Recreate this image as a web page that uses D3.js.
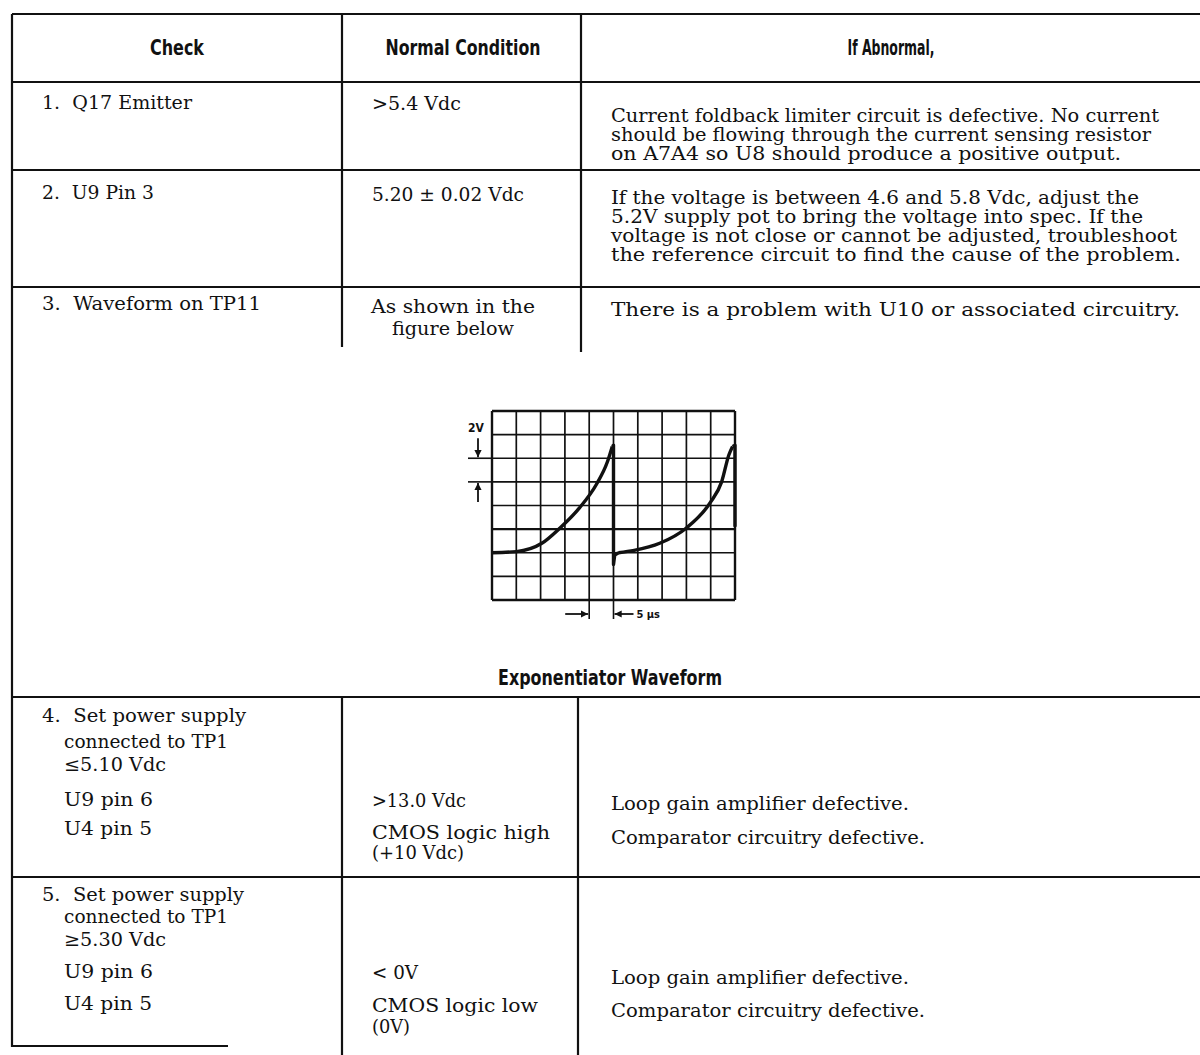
<!DOCTYPE html>
<html>
<head>
<meta charset="utf-8">
<script src="https://cdn.jsdelivr.net/npm/d3@7"></script>
<style>
  body { margin: 0; background: #fff; }
  .hdr { font-family: "Liberation Sans Narrow", "DejaVu Sans Condensed", "Liberation Sans", sans-serif; font-weight: bold; fill: #111; }
  .body { font-family: "DejaVu Serif", "Liberation Serif", serif; fill: #111; }
  .rule { stroke: #111; stroke-width: 2.2; fill: none; }
</style>
</head>
<body>
<div id="chart"></div>
<script>
// ---- table text ----
const headers = ["Check", "Normal Condition", "If Abnormal,"];

const checks = [
    ["1.  Q17 Emitter"],
    ["2.  U9 Pin 3"],
    ["3.  Waveform on TP11"],
    ["4.  Set power supply", "connected to TP1", "\u22645.10 Vdc", "U9 pin 6", "U4 pin 5"],
    ["5.  Set power supply", "connected to TP1", "\u22655.30 Vdc", "U9 pin 6", "U4 pin 5"]
];

const conditions = [
    [">5.4 Vdc"],
    ["5.20 \u00b1 0.02 Vdc"],
    ["As shown in the", "figure below"],
    [">13.0 Vdc", "CMOS logic high", "(+10 Vdc)"],
    ["< 0V", "CMOS logic low", "(0V)"]
];

const abnormal = [
    ["Current foldback limiter circuit is defective. No current",
     "should be flowing through the current sensing resistor",
     "on A7A4 so U8 should produce a positive output."],
    ["If the voltage is between 4.6 and 5.8 Vdc, adjust the",
     "5.2V supply pot to bring the voltage into spec. If the",
     "voltage is not close or cannot be adjusted, troubleshoot",
     "the reference circuit to find the cause of the problem."],
    ["There is a problem with U10 or associated circuitry."],
    ["Loop gain amplifier defective.", "Comparator circuitry defective."],
    ["Loop gain amplifier defective.", "Comparator circuitry defective."]
];

const caption = "Exponentiator Waveform";

// ---- scope figure (graticule divisions, trace in divisions from top-left) ----
const gridCols = 10;
const gridRows = 8;
const rise1 = [[0, 6.0], [1.0, 5.95], [2.05, 5.6], [2.8, 4.95], [3.6, 4.1], [4.3, 3.1], [4.75, 2.15], [4.95, 1.5]];
const drop1 = [[4.95, 1.5], [5.0, 1.45], [5.0, 6.5], [5.05, 6.1], [5.2, 6.0]];
const rise2 = [[5.2, 6.0], [5.85, 5.9], [6.9, 5.6], [8.0, 4.95], [9.0, 3.85], [9.45, 3.0], [9.75, 1.85], [9.9, 1.5]];
const drop2 = [[9.9, 1.5], [10, 1.45], [10, 4.9]];
const voltsLabel = "2V";
const timeLabel = "5 \u00b5s";
const voltsDiv = [2, 3];   // graticule lines marked by the volts arrows
const timeDiv = [4, 5];    // graticule lines marked by the time arrows

// ---- layout ----
const W = 1200, H = 1055;
const colX = [12, 342, 581];
const textX = [42, 372, 611];
const rowLines = [14, 82, 170, 287, 697, 877];
const rowSize = [17.5, 17.5, 18.5, 18, 18];

// baselines and printed widths of each cell line
const checkY = [[109], [199], [310], [722, 748, 771, 806, 835], [901, 923, 946, 978, 1010]];
const checkW = [[150], [112], [219], [204, 164, 102, 89, 88], [202, 164, 102, 89, 88]];
const condY = [[110], [201], [313, 335], [807, 839, 859], [979, 1012, 1033]];
const condW = [[89], [152], [164, 122], [94, 178, 92], [46, 166, 38]];
const abnY = [[122, 141, 160], [204, 223, 242, 261], [316], [810, 844], [984, 1017]];
const abnW = [[548, 540, 510], [528, 532, 566, 570], [569], [298, 314], [298, 314]];

const svg = d3.select("#chart").append("svg")
    .attr("width", W)
    .attr("height", H);

svg.append("defs").selectAll("marker")
    .data(["arrow"])
    .enter().append("marker")
    .attr("id", d => d)
    .attr("viewBox", "0 0 10 10")
    .attr("refX", 10).attr("refY", 5)
    .attr("markerWidth", 4).attr("markerHeight", 4)
    .attr("orient", "auto")
    .append("path")
    .attr("d", "M0,0 L10,5 L0,10 z")
    .attr("fill", "#111");

// table rules
let rules = svg.append("g");
rowLines.forEach(y => rules.append("line").attr("class", "rule")
    .attr("x1", colX[0]).attr("x2", W).attr("y1", y).attr("y2", y));
rules.append("line").attr("class", "rule").attr("x1", colX[0]).attr("x2", 228).attr("y1", 1046).attr("y2", 1046);
rules.append("line").attr("class", "rule").attr("x1", colX[0]).attr("x2", colX[0]).attr("y1", 14).attr("y2", 1047);
rules.append("line").attr("class", "rule").attr("x1", colX[1]).attr("x2", colX[1]).attr("y1", 14).attr("y2", 347);
rules.append("line").attr("class", "rule").attr("x1", colX[2]).attr("x2", colX[2]).attr("y1", 14).attr("y2", 352);
rules.append("line").attr("class", "rule").attr("x1", colX[1]).attr("x2", colX[1]).attr("y1", 697).attr("y2", H);
rules.append("line").attr("class", "rule").attr("x1", 578).attr("x2", 578).attr("y1", 697).attr("y2", H);

// header
const hdrCenters = [177, 463, 891];
const hdrWidths = [54, 155, 87];
svg.selectAll(".hdr-t")
    .data(headers)
    .enter().append("text")
    .attr("class", "hdr")
    .attr("x", (d, i) => hdrCenters[i])
    .attr("y", 55)
    .attr("text-anchor", "middle")
    .attr("font-size", 21)
    .attr("textLength", (d, i) => hdrWidths[i])
    .attr("lengthAdjust", "spacingAndGlyphs")
    .text(d => d);

// each line: size nudged slightly toward the printed width, then fitted exactly
function cellText(lines, ys, ws, x, base, anchor, indentFrom) {
    svg.append("g").selectAll("text")
        .data(lines)
        .enter().append("text")
        .attr("class", "body")
        .attr("x", (d, i) => (indentFrom != null && i >= indentFrom) ? x + 22 : x)
        .attr("y", (d, i) => ys[i])
        .attr("font-size", base)
        .attr("text-anchor", anchor)
        .attr("xml:space", "preserve")
        .text(d => d)
        .each(function(d, i) {
            let natural = this.getComputedTextLength();
            let fs = Math.max(base - 0.6, Math.min(base + 0.6, base * ws[i] / natural));
            d3.select(this)
                .attr("font-size", fs)
                .attr("textLength", ws[i])
                .attr("lengthAdjust", "spacingAndGlyphs");
        });
}

checks.forEach((c, r) => cellText(c, checkY[r], checkW[r], textX[0], rowSize[r], "start", 1));
conditions.forEach((c, r) => {
    if (r == 2) cellText(c, condY[r], condW[r], 453, rowSize[r], "middle");
    else cellText(c, condY[r], condW[r], textX[1], rowSize[r], "start");
});
abnormal.forEach((c, r) => cellText(c, abnY[r], abnW[r], textX[2], rowSize[r], "start"));

// ---- scope figure ----
const x = d3.scaleLinear().domain([0, gridCols]).range([492, 735]);
const y = d3.scaleLinear().domain([0, gridRows]).range([411, 600]);

let fig = svg.append("g");
fig.selectAll(".vgrid")
    .data(d3.range(gridCols + 1))
    .enter().append("line")
    .attr("x1", d => x(d)).attr("x2", d => x(d))
    .attr("y1", y(0)).attr("y2", y(gridRows))
    .attr("stroke", "#111")
    .attr("stroke-width", d => (d == 0 || d == gridCols) ? 2.4 : 1.7);
fig.selectAll(".hgrid")
    .data(d3.range(gridRows + 1))
    .enter().append("line")
    .attr("x1", x(0)).attr("x2", x(gridCols))
    .attr("y1", d => y(d)).attr("y2", d => y(d))
    .attr("stroke", "#111")
    .attr("stroke-width", d => (d == 0 || d == gridRows || d == 5) ? 2.4 : 1.7);

const smooth = d3.line().x(d => x(d[0])).y(d => y(d[1])).curve(d3.curveMonotoneX);
const straight = d3.line().x(d => x(d[0])).y(d => y(d[1]));
[[rise1, smooth], [drop1, straight], [rise2, smooth], [drop2, straight]].forEach(p => {
    fig.append("path")
        .attr("d", p[1](p[0]))
        .attr("fill", "none")
        .attr("stroke", "#111")
        .attr("stroke-width", 3.4)
        .attr("stroke-linejoin", "round");
});

// volts per division marker
fig.selectAll(".vtick")
    .data(voltsDiv)
    .enter().append("line")
    .attr("x1", 468).attr("x2", x(0))
    .attr("y1", d => y(d)).attr("y2", d => y(d))
    .attr("stroke", "#111").attr("stroke-width", 1.6);
fig.append("line").attr("x1", 478).attr("x2", 478)
    .attr("y1", y(voltsDiv[0]) - 20).attr("y2", y(voltsDiv[0]) - 1)
    .attr("stroke", "#111").attr("stroke-width", 1.8).attr("marker-end", "url(#arrow)");
fig.append("line").attr("x1", 478).attr("x2", 478)
    .attr("y1", y(voltsDiv[1]) + 20).attr("y2", y(voltsDiv[1]) + 1)
    .attr("stroke", "#111").attr("stroke-width", 1.8).attr("marker-end", "url(#arrow)");
fig.append("text")
    .attr("class", "hdr")
    .attr("x", 476).attr("y", 432)
    .attr("text-anchor", "middle")
    .attr("font-size", 12)
    .text(voltsLabel);

// time per division marker
fig.selectAll(".ttick")
    .data(timeDiv)
    .enter().append("line")
    .attr("x1", d => x(d)).attr("x2", d => x(d))
    .attr("y1", y(gridRows)).attr("y2", y(gridRows) + 19)
    .attr("stroke", "#111").attr("stroke-width", 1.6);
fig.append("line")
    .attr("x1", x(timeDiv[0]) - 24).attr("x2", x(timeDiv[0]) - 1)
    .attr("y1", 614).attr("y2", 614)
    .attr("stroke", "#111").attr("stroke-width", 1.8).attr("marker-end", "url(#arrow)");
fig.append("line")
    .attr("x1", x(timeDiv[1]) + 20).attr("x2", x(timeDiv[1]) + 1)
    .attr("y1", 614).attr("y2", 614)
    .attr("stroke", "#111").attr("stroke-width", 1.8).attr("marker-end", "url(#arrow)");
fig.append("text")
    .attr("class", "hdr")
    .attr("x", x(timeDiv[1]) + 23).attr("y", 618)
    .attr("font-size", 11)
    .text(timeLabel);

// caption
svg.append("text")
    .attr("class", "hdr")
    .attr("x", 610).attr("y", 685)
    .attr("text-anchor", "middle")
    .attr("font-size", 21)
    .attr("textLength", 224)
    .attr("lengthAdjust", "spacingAndGlyphs")
    .text(caption);
</script>
</body>
</html>
